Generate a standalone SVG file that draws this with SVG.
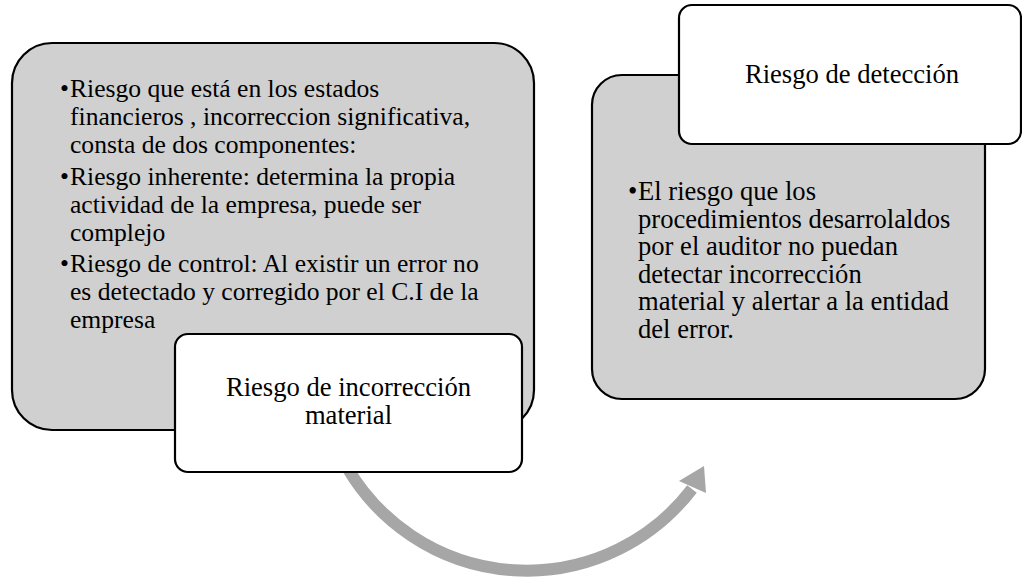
<svg xmlns="http://www.w3.org/2000/svg" width="1022" height="578" viewBox="0 0 1022 578">
<style>
.card{fill:#d0d0d0;stroke:#000;stroke-width:2.2}
.lbl{fill:#fff;stroke:#000;stroke-width:2.2}
.t{font-family:"Liberation Serif","Times New Roman",serif;font-size:26px;fill:#000}
.l{font-size:25.6px}
.r{font-size:26.6px}
.c{text-anchor:middle}
.arrow{fill:none;stroke:#a6a6a6;stroke-width:12}
</style>
<rect width="1022" height="578" fill="#fff"/>
<g id="node-incorreccion-body">
<rect class="card" x="12" y="43" width="522" height="387" rx="40" ry="40"/>
<text class="t l" x="60" y="97">•</text>
<text class="t l" x="70" y="97">Riesgo que está en los estados</text>
<text class="t l" x="70" y="125">financieros , incorreccion significativa,</text>
<text class="t l" x="70" y="153">consta de dos componentes:</text>
<text class="t l" x="60" y="185">•</text>
<text class="t l" x="70" y="185">Riesgo inherente: determina la propia</text>
<text class="t l" x="70" y="213">actividad de la empresa, puede ser</text>
<text class="t l" x="70" y="241">complejo</text>
<text class="t l" x="60" y="272">•</text>
<text class="t l" x="70" y="272">Riesgo de control: Al existir un error no</text>
<text class="t l" x="70" y="300">es detectado y corregido por el C.I de la</text>
<text class="t l" x="70" y="328">empresa</text>
</g>
<g id="connectors">
<path class="arrow" d="M 346.9 467 A 208 208 0 0 0 692 489"/>
<polygon points="679,481 704,466 706,493" fill="#a6a6a6"/>
</g>
<g id="node-incorreccion-label">
<rect class="lbl" x="175" y="334" width="347" height="138" rx="13" ry="13"/>
<text class="t r c" x="348.5" y="396">Riesgo de incorrección</text>
<text class="t r c" x="348.5" y="424">material</text>
</g>
<g id="node-deteccion-body">
<rect class="card" x="592" y="75" width="393" height="324" rx="30" ry="30"/>
<text class="t r" x="628" y="200">•</text>
<text class="t r" x="638" y="200">El riesgo que los</text>
<text class="t r" x="638" y="227.5">procedimientos desarrolaldos</text>
<text class="t r" x="638" y="255">por el auditor no puedan</text>
<text class="t r" x="638" y="282.5">detectar incorrección</text>
<text class="t r" x="638" y="310">material y alertar a la entidad</text>
<text class="t r" x="638" y="337.5">del error.</text>
</g>
<g id="node-deteccion-label">
<rect class="lbl" x="679" y="5" width="342" height="139" rx="13" ry="13"/>
<text class="t r c" x="852" y="83">Riesgo de detección</text>
</g>
</svg>
